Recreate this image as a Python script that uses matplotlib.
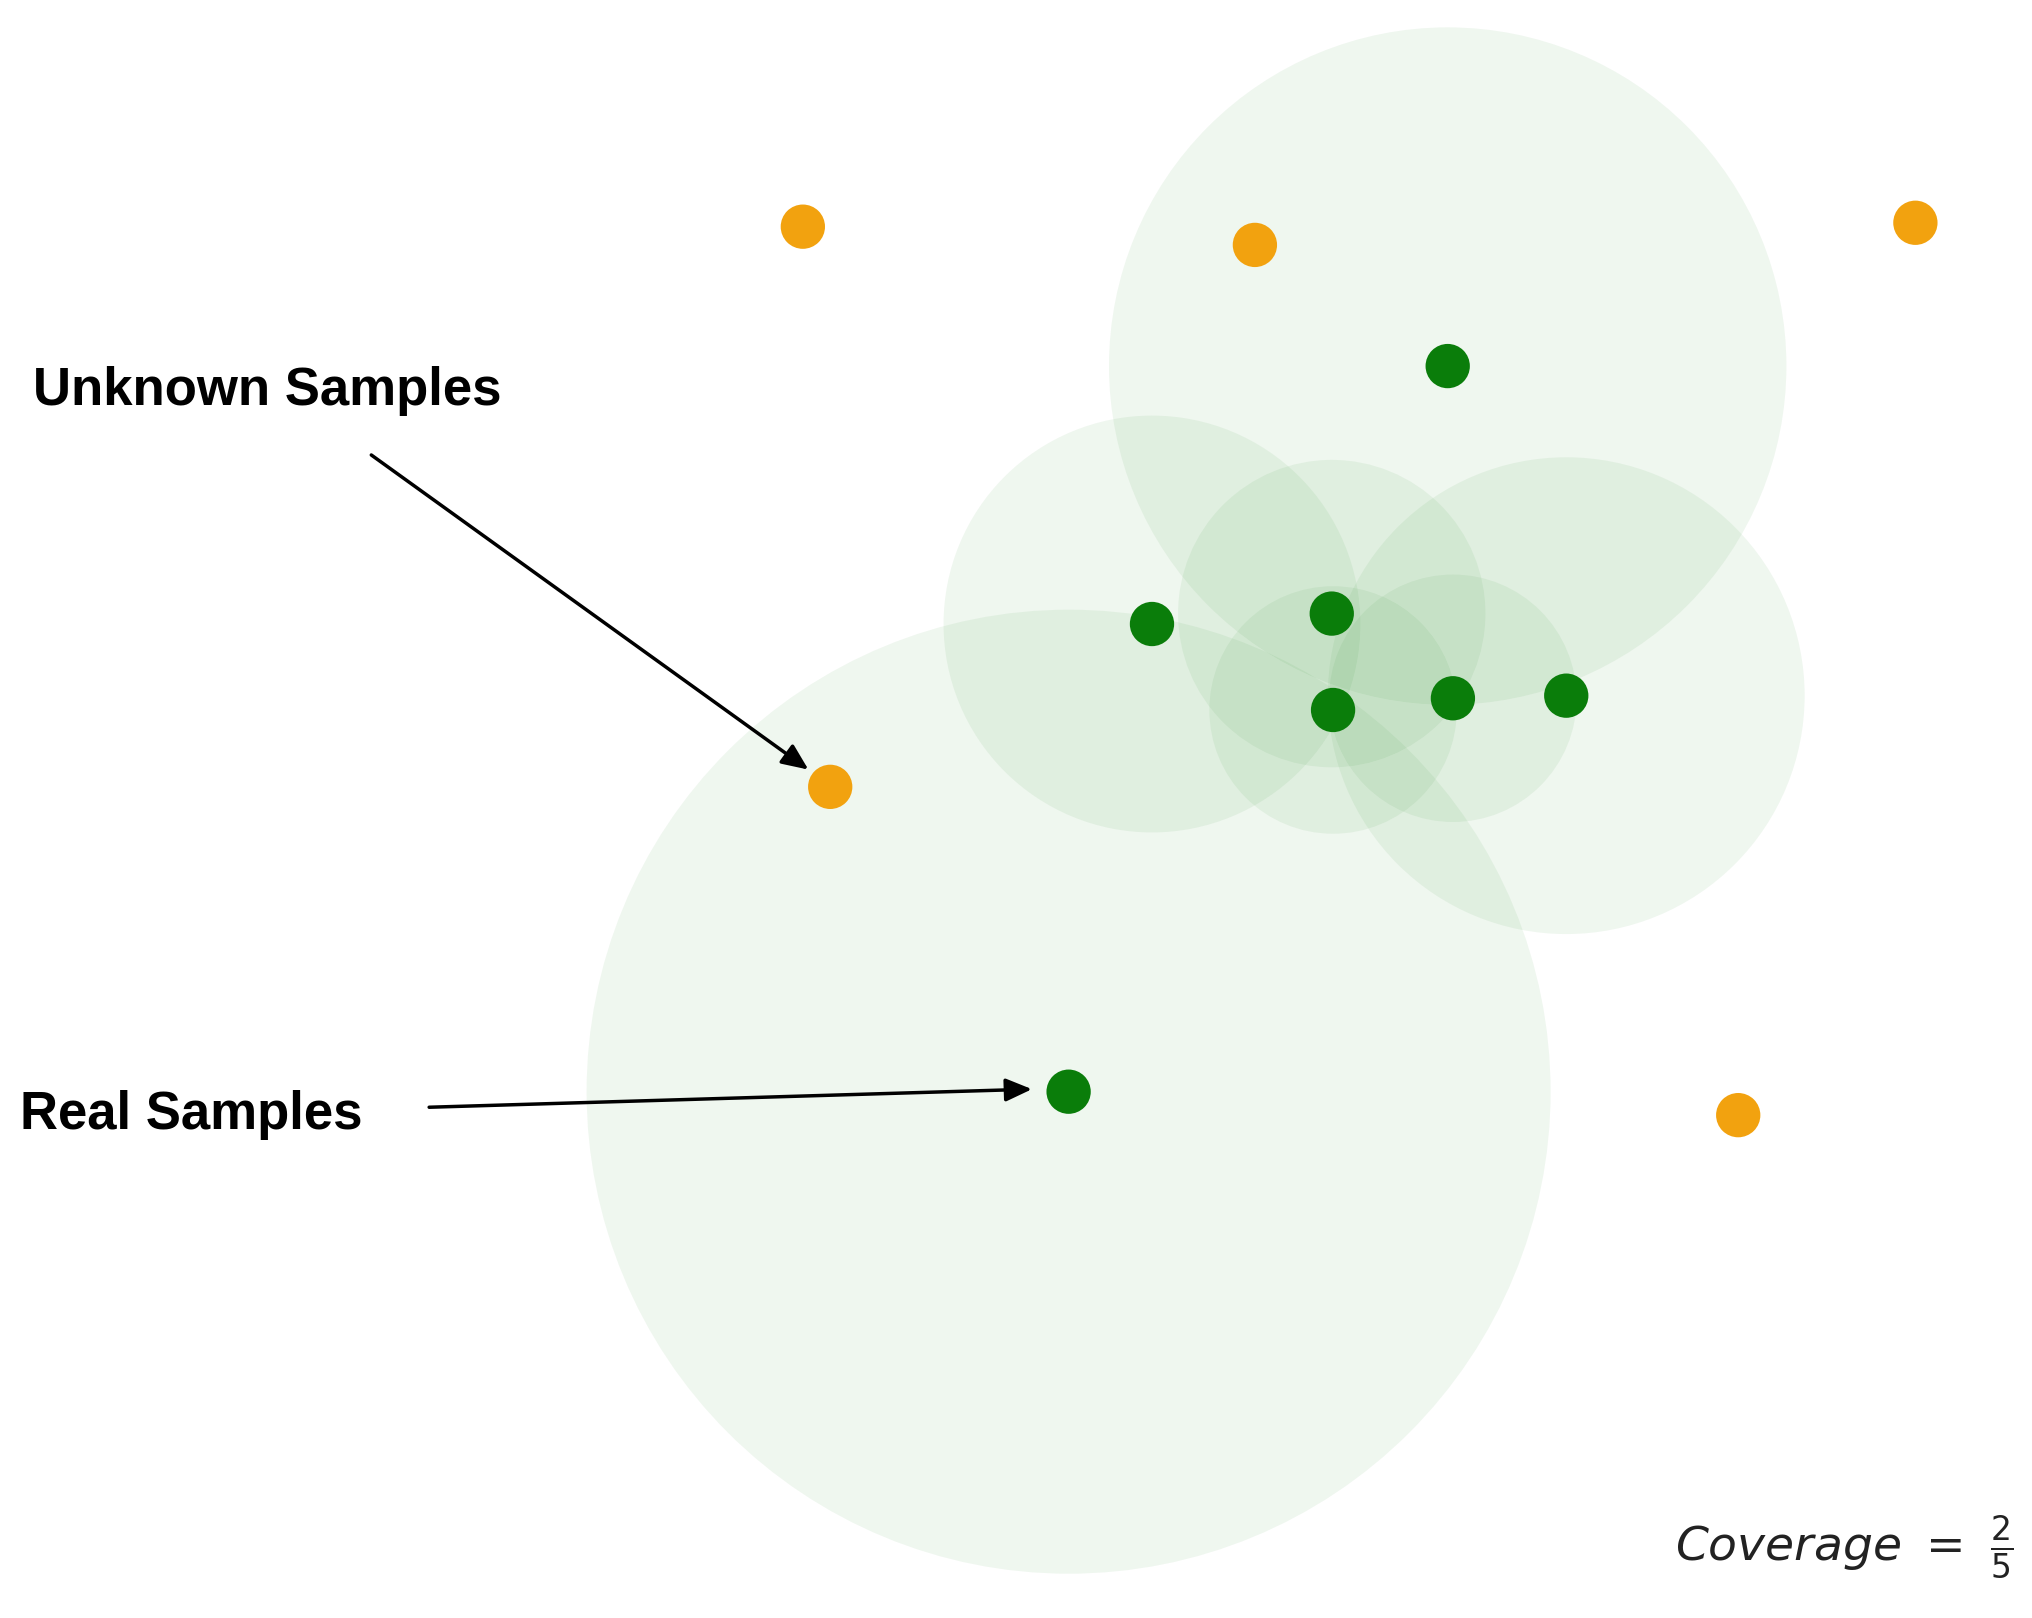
import matplotlib.pyplot as plt
from matplotlib.patches import Circle

# coordinates in image space (x right, y down), 1560 x 1242
unknown_x = [616, 963, 1470, 637, 1334]
unknown_y = [174, 188, 171, 604, 856]

real_x = [1111, 884, 1022, 1023, 1115, 1202, 820]
real_y = [281, 479, 471, 545, 536, 534, 838]
real_radius = [260, 160, 118, 95, 95, 183, 370]

ORANGE = "#f2a20f"
GREEN = "#0a7d0a"

fig = plt.figure(figsize=(20.33, 16.18), dpi=100)
ax = fig.add_axes([0, 0, 1, 1])
ax.set_xlim(0, 1560)
ax.set_ylim(1242, 0)
ax.set_aspect("equal")
ax.axis("off")

for x, y, r in zip(real_x, real_y, real_radius):
    ax.add_patch(Circle((x, y), r, facecolor="#3a9a3a", alpha=0.08, edgecolor="none", zorder=1))

for x, y in zip(unknown_x, unknown_y):
    ax.add_patch(Circle((x, y), 17, facecolor=ORANGE, edgecolor="none", zorder=3))
for x, y in zip(real_x, real_y):
    ax.add_patch(Circle((x, y), 17, facecolor=GREEN, edgecolor="none", zorder=3))

font = {"family": "Liberation Sans", "weight": "bold", "size": 38}
ax.text(25, 300, "Unknown Samples", va="center", ha="left", **font)
ax.text(15, 856, "Real Samples", va="center", ha="left", **font)

arrow = dict(arrowstyle="-|>,head_length=1.6,head_width=0.7", color="black", lw=2.5)
ax.annotate("", xy=(622, 592), xytext=(283, 348), arrowprops=arrow, zorder=4)
ax.annotate("", xy=(794, 836), xytext=(327, 850), arrowprops=arrow, zorder=4)

ax.text(1545, 1188, r"$Coverage\ =\ \frac{2}{5}$", ha="right", va="center",
        fontsize=34, color="#222222")

fig.savefig("out.png", facecolor="white")
